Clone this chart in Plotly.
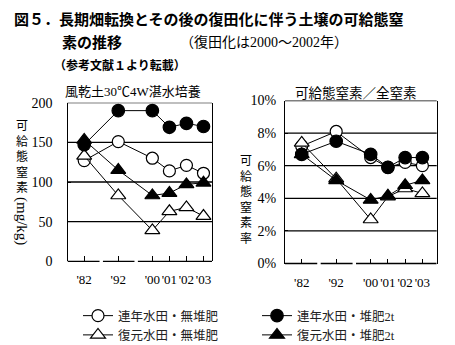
import plotly.graph_objects as go

# ---------------- data ----------------
years = ["'82", "'92", "'00", "'01", "'02", "'03"]
xpos = [0, 2, 4, 5, 6, 7]          # broken time axis positions

names = ["連年水田・無堆肥", "連年水田・堆肥2t", "復元水田・無堆肥", "復元水田・堆肥2t"]

left_renen_mu = [127, 151, 130, 114, 121, 111]
left_renen_tai = [147, 190, 190, 169, 174, 170]
left_fukugen_mu = [133, 83, 39, 63, 68, 57]
left_fukugen_tai = [153, 115, 83, 86, 97, 99]

right_renen_mu = [7.2, 8.1, 6.5, 5.9, 6.2, 6.0]
right_renen_tai = [6.7, 7.5, 6.7, 5.9, 6.5, 6.5]
right_fukugen_mu = [7.4, 5.2, 2.7, 4.1, 4.6, 4.3]
right_fukugen_tai = [6.7, 5.1, 3.9, 4.15, 4.8, 5.1]

left_ticks = [0, 50, 100, 150, 200]
left_grid = [50, 100, 150, 200]
right_ticks = [0, 2, 4, 6, 8, 10]
right_ticktext = ["0%", "2%", "4%", "6%", "8%", "10%"]
right_grid = [2, 4, 6, 8, 10]
axis_breaks = [1.0, 3.05]

# ---------------- style ----------------
W, H = 455, 345
CJK = "Noto Sans CJK JP"
SERIF = "Liberation Serif"
MIX = f"{SERIF}, {CJK}"

styles = [
    dict(symbol="circle", color="white", size=12),
    dict(symbol="circle", color="black", size=12.5),
    dict(symbol="triangle-up", color="white", size=13),
    dict(symbol="triangle-up", color="black", size=13),
]
left_data = [left_renen_mu, left_renen_tai, left_fukugen_mu, left_fukugen_tai]
right_data = [right_renen_mu, right_renen_tai, right_fukugen_mu, right_fukugen_tai]
draw_order = [0, 2, 1, 3]
legend_rank = {0: 1, 1: 2, 2: 3, 3: 4}

fig = go.Figure()
for i in draw_order:
    st = styles[i]
    for data, xa, ya, show in [(left_data, "x", "y", True), (right_data, "x2", "y2", False)]:
        fig.add_trace(go.Scatter(
            x=xpos, y=data[i], xaxis=xa, yaxis=ya,
            mode="lines+markers", name=names[i], showlegend=show,
            legendrank=legend_rank[i],
            line=dict(color="black", width=1),
            marker=dict(symbol=st["symbol"], size=st["size"], color=st["color"],
                        line=dict(color="black", width=1.2)),
        ))

def px_x(p):
    return p / W

def px_y(p):
    return 1 - p / H

axis_common = dict(showgrid=False, zeroline=False, automargin=False)
xfont = dict(family=SERIF, size=13, color="black")
yfont = dict(family=SERIF, size=14, color="black")

fig.update_layout(
    width=W, height=H,
    margin=dict(l=0, r=0, t=0, b=0, autoexpand=False),
    paper_bgcolor="white", plot_bgcolor="white",
    xaxis=dict(domain=[px_x(67.5), px_x(212)], range=[-0.98, 7.5],
               tickvals=xpos, ticktext=years, ticks="inside", ticklen=5,
               tickcolor="black", tickwidth=1, showline=False, tickangle=0,
               tickfont=xfont, ticklabelstandoff=9, **axis_common),
    yaxis=dict(domain=[px_y(261.3), px_y(102.7)], range=[0, 200],
               tickvals=left_ticks, ticks="inside", ticklen=3, tickcolor="black",
               showline=True, mirror=True, linecolor="black", linewidth=1.3,
               tickfont=yfont, ticklabelstandoff=11, **axis_common),
    xaxis2=dict(domain=[px_x(285), px_x(436.7)], range=[-0.97, 7.83], anchor="y2",
                tickvals=xpos, ticktext=years, ticks="inside", ticklen=5,
                tickcolor="black", tickwidth=1, showline=False, tickangle=0,
                tickfont=xfont, ticklabelstandoff=9, **axis_common),
    yaxis2=dict(domain=[px_y(263.5), px_y(100.5)], range=[0, 10], anchor="x2",
                tickvals=right_ticks, ticktext=right_ticktext, ticks="inside", ticklen=3,
                tickcolor="black",
                showline=True, mirror=True, linecolor="black", linewidth=1.3,
                tickfont=yfont, ticklabelstandoff=5, **axis_common),
    legend=dict(orientation="h", x=px_x(78), y=px_y(301), xanchor="left", yanchor="top",
                entrywidth=134, entrywidthmode="pixels", itemwidth=30,
                font=dict(family=MIX, size=12.5, color="#222"),
                bgcolor="rgba(0,0,0,0)", traceorder="normal"),
    showlegend=True,
)

shapes = []
for g in left_grid:
    shapes.append(dict(type="line", xref="x domain", yref="y", x0=0, x1=1, y0=g, y1=g,
                       line=dict(color="black", width=1.3), layer="below"))
for g in right_grid:
    shapes.append(dict(type="line", xref="x2 domain", yref="y2", x0=0, x1=1, y0=g, y1=g,
                       line=dict(color="black", width=1.3), layer="below"))
# broken bottom axes
for xr, yr, lo, hi in [("x", "y domain", -0.98, 7.5), ("x2", "y2 domain", -0.97, 7.83)]:
    pts = [lo]
    for b in axis_breaks:
        pts += [b - 0.1, b + 0.1]
    pts.append(hi)
    for k in range(0, len(pts), 2):
        shapes.append(dict(type="line", xref=xr, yref=yr, x0=pts[k], x1=pts[k + 1], y0=0, y1=0,
                           line=dict(color="black", width=1.3)))
fig.update_layout(shapes=shapes)

ann = []
ann.append(dict(text="<b>図５．長期畑転換とその後の復田化に伴う土壌の可給態窒</b>",
                x=px_x(12), y=px_y(19), xanchor="left", yanchor="middle",
                font=dict(family=CJK, size=15, color="black")))
ann.append(dict(text="<b>素の推移</b>", x=px_x(60), y=px_y(42), xanchor="left", yanchor="middle",
                font=dict(family=CJK, size=15, color="black")))
ann.append(dict(text="（復田化は2000～2002年）", x=px_x(178), y=px_y(42), xanchor="left",
                yanchor="middle", font=dict(family=MIX, size=14, color="black")))
ann.append(dict(text="<b>（参考文献１より転載）</b>", x=px_x(52), y=px_y(64), xanchor="left",
                yanchor="middle", font=dict(family=CJK, size=12, color="black")))
ann.append(dict(text="風乾土30℃4W湛水培養", x=px_x(133), y=px_y(92), xanchor="center",
                yanchor="middle", font=dict(family=MIX, size=13, color="black")))
ann.append(dict(text="可給態窒素／全窒素", x=px_x(356), y=px_y(92), xanchor="center",
                yanchor="middle", font=dict(family=CJK, size=13.5, color="black")))
ann.append(dict(text="<br>".join("可給態窒素"), x=px_x(22), y=px_y(155), xanchor="center",
                yanchor="middle", font=dict(family=CJK, size=12, color="black")))
ann.append(dict(text="(mg/kg)", x=px_x(22), y=px_y(221), xanchor="center", yanchor="middle",
                textangle=90, font=dict(family=SERIF, size=15, color="black")))
ann.append(dict(text="<br>".join("可給態窒素率"), x=px_x(246), y=px_y(198), xanchor="center",
                yanchor="middle", font=dict(family=CJK, size=12, color="black")))
for a in ann:
    a.update(xref="paper", yref="paper", showarrow=False)
fig.update_layout(annotations=ann)

fig.write_html("out.html")
